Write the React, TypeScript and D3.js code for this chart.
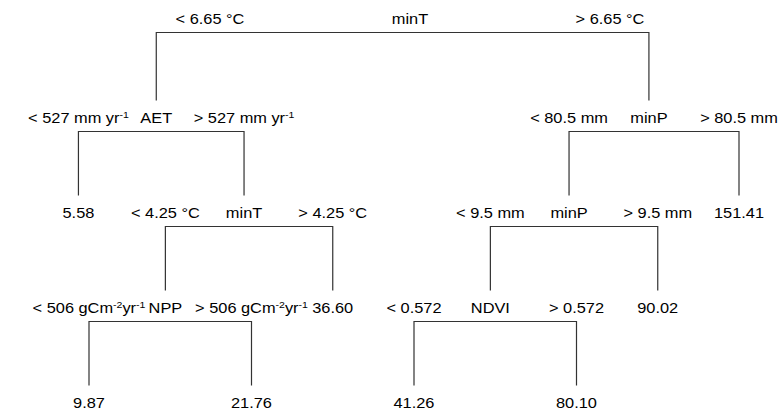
import React, { useEffect, useRef } from "react";
import * as d3 from "d3";

// split nodes (rpart numbering: children of n are 2n and 2n+1)
const splitIds = [1, 2, 5, 10, 3, 6, 12];
const splitVars = ["minT", "AET", "minT", "NPP", "minP", "minP", "NDVI"];
const splitLow = [
  "< 6.65 °C",
  "< 527 mm yr^{-1}",
  "< 4.25 °C",
  "< 506 gCm^{-2}yr^{-1}",
  "< 80.5 mm",
  "< 9.5 mm",
  "< 0.572",
];
const splitHigh = [
  "> 6.65 °C",
  "> 527 mm yr^{-1}",
  "> 4.25 °C",
  "> 506 gCm^{-2}yr^{-1}",
  "> 80.5 mm",
  "> 9.5 mm",
  "> 0.572",
];

// terminal nodes, left to right
const leafIds = [4, 20, 21, 11, 24, 25, 13, 7];
const leafMeans = [5.58, 9.87, 21.76, 36.6, 41.26, 80.1, 90.02, 151.41];
const leafSlots = [-0.13, 0, 2, 3, 4, 6, 7, 8];

const W = 778;
const H = 413;
const STRETCH = 1.17;

type Row = { id: string; parentId: string | null };

function addRich(text: any, label: string) {
  const parts = label.split(/(\^\{[^}]*\})/).filter(Boolean);
  let raised = false;
  parts.forEach((p) => {
    const sup = p.startsWith("^{");
    const t = text.append("tspan").text(sup ? p.slice(2, -1) : p);
    if (sup) {
      t.attr("font-size", 9).attr("dy", raised ? 0 : -5);
      raised = true;
    } else if (raised) {
      t.attr("dy", 5);
      raised = false;
    }
  });
}

export default function App() {
  const ref = useRef<SVGSVGElement>(null);

  useEffect(() => {
    const svg = d3.select(ref.current);
    svg.selectAll("*").remove();

    const x = d3.scaleLinear().domain([0, 8]).range([89, 739]);
    // depth -> text baseline
    const y = d3.scaleLinear().domain([0, 1, 4]).range([24, 123, 408]);

    const ids = [...splitIds, ...leafIds];
    const rows: Row[] = ids.map((id) => ({
      id: String(id),
      parentId: id === 1 ? null : String(Math.floor(id / 2)),
    }));
    const root = d3
      .stratify<Row>()
      .id((d) => d.id)
      .parentId((d) => d.parentId)(rows);
    root.sort((a, b) => +a.id! - +b.id!);

    // leaves sit on their slot, splits between their two children
    const px = new Map<string, number>();
    root.eachAfter((n) => {
      const li = leafIds.indexOf(+n.id!);
      if (li >= 0) {
        px.set(n.id!, x(leafSlots[li]));
      } else {
        const [a, b] = n.children!.map((c) => px.get(c.id!)!);
        const t = n.depth === 0 ? 0.515 : 0.47;
        px.set(n.id!, a + (b - a) * t);
      }
    });

    const g = svg
      .append("g")
      .attr("font-family", "'Liberation Sans', Arial, Helvetica, sans-serif")
      .attr("font-size", 14)
      .attr("fill", "#000");

    const label = (cx: number, cy: number, str: string) => {
      const t = g
        .append("text")
        .attr("transform", `translate(${cx},${cy}) scale(${STRETCH},1)`)
        .attr("text-anchor", "middle");
      addRich(t, str);
    };

    const line = d3.line<[number, number]>();

    root.each((n) => {
      const id = +n.id!;
      const nx = px.get(n.id!)!;
      const ny = y(n.depth);
      const li = leafIds.indexOf(id);
      if (li >= 0) {
        label(nx, ny, d3.format(".2f")(leafMeans[li]));
        return;
      }
      const si = splitIds.indexOf(id);
      const [lc, rc] = n.children!;
      const lx = px.get(lc.id!)!;
      const rx = px.get(rc.id!)!;
      const barY = ny + 8.5;
      const legEnd = y(n.depth + 1) - 22.5;

      g.append("path")
        .attr(
          "d",
          line([
            [lx, legEnd],
            [lx, barY],
            [rx, barY],
            [rx, legEnd],
          ])
        )
        .attr("fill", "none")
        .attr("stroke", "#333")
        .attr("stroke-width", 1.2);

      label(nx, ny, splitVars[si]);
      label(nx - Math.min(nx - lx, 200), ny, splitLow[si]);
      label(nx + Math.min(rx - nx, 200), ny, splitHigh[si]);
    });
  }, []);

  return (
    <svg
      ref={ref}
      width={W}
      height={H}
      style={{ position: "absolute", left: 0, top: 0, background: "#fff" }}
    ></svg>
  );
}
